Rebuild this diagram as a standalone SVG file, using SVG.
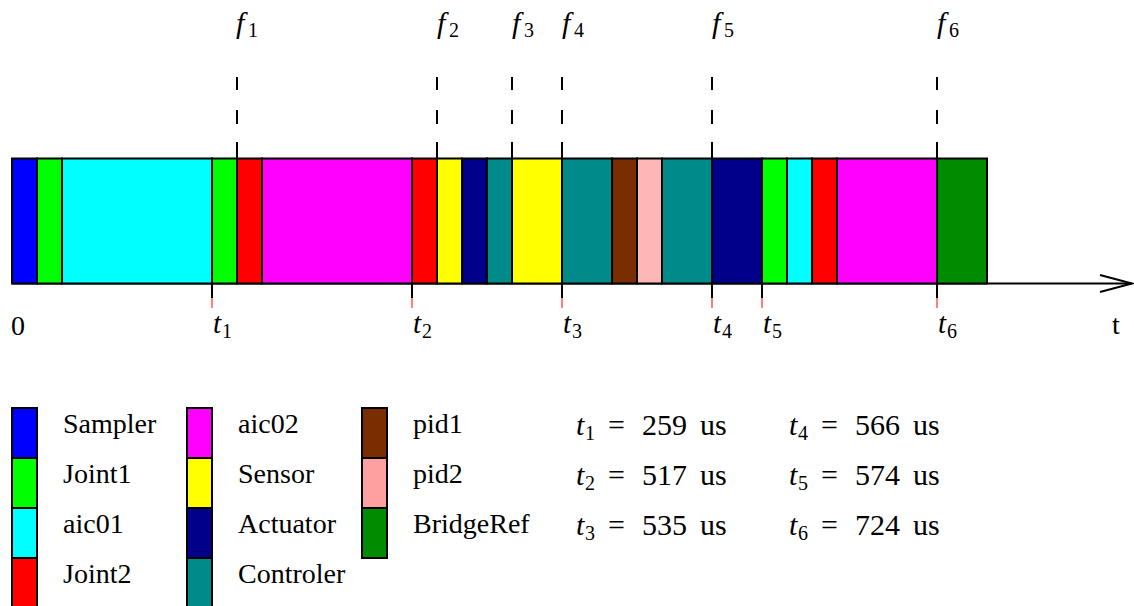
<svg xmlns="http://www.w3.org/2000/svg" width="1134" height="606" viewBox="0 0 1134 606" font-family="'Liberation Serif','DejaVu Serif','Times New Roman',serif">
<style>
.seg{stroke:#000;stroke-width:2}
.lbox{stroke:#000;stroke-width:2}
text{font-family:'Liberation Serif','DejaVu Serif','Times New Roman',serif;fill:#000}
.rm{font-size:28px}
.eq{font-size:30px}
.it{font-style:italic}
.sub{font-size:20px;font-style:normal}
.dash{stroke:#000;stroke-width:2;fill:none}
.tick{stroke:#000;stroke-width:2}
.rtick{stroke:#ff0000;stroke-width:1}
.axis{stroke:#000;stroke-width:2;fill:none}
</style>
<rect width="1134" height="606" fill="#fff"/>
<g id="connectors">
  <line class="axis" x1="12" y1="283.5" x2="1132" y2="283.5"/>
  <polyline class="axis" points="1100,275 1132,283.5 1100,292"/>
  <path class="dash" d="M237 77v13M237 110v14M237 142v16M437 77v13M437 110v14M437 142v16M512 77v13M512 110v14M512 142v16M562 77v13M562 110v14M562 142v16M712 77v13M712 110v14M712 142v16M937 77v13M937 110v14M937 142v16"/>
  <path class="tick" d="M212 283v15M412 283v15M562 283v15M712 283v15M762 283v15M937 283v15"/>
  <path class="rtick" d="M212 298v10M412 298v10M562 298v10M712 298v10M762 298v10M937 298v10"/>
</g>
<g id="bar">
  <rect class="seg" x="12" y="158.5" width="25" height="125" fill="#0000ff"/>
  <rect class="seg" x="37" y="158.5" width="25" height="125" fill="#00ff00"/>
  <rect class="seg" x="62" y="158.5" width="150" height="125" fill="#00ffff"/>
  <rect class="seg" x="212" y="158.5" width="25" height="125" fill="#00ff00"/>
  <rect class="seg" x="237" y="158.5" width="25" height="125" fill="#ff0000"/>
  <rect class="seg" x="262" y="158.5" width="150" height="125" fill="#ff00ff"/>
  <rect class="seg" x="412" y="158.5" width="25" height="125" fill="#ff0000"/>
  <rect class="seg" x="437" y="158.5" width="25" height="125" fill="#ffff00"/>
  <rect class="seg" x="462" y="158.5" width="25" height="125" fill="#00008b"/>
  <rect class="seg" x="487" y="158.5" width="25" height="125" fill="#008b8b"/>
  <rect class="seg" x="512" y="158.5" width="50" height="125" fill="#ffff00"/>
  <rect class="seg" x="562" y="158.5" width="50" height="125" fill="#008b8b"/>
  <rect class="seg" x="612" y="158.5" width="25" height="125" fill="#7a2e00"/>
  <rect class="seg" x="637" y="158.5" width="25" height="125" fill="#ffb6b6"/>
  <rect class="seg" x="662" y="158.5" width="50" height="125" fill="#008b8b"/>
  <rect class="seg" x="712" y="158.5" width="50" height="125" fill="#00008b"/>
  <rect class="seg" x="762" y="158.5" width="25" height="125" fill="#00ff00"/>
  <rect class="seg" x="787" y="158.5" width="25" height="125" fill="#00ffff"/>
  <rect class="seg" x="812" y="158.5" width="25" height="125" fill="#ff0000"/>
  <rect class="seg" x="837" y="158.5" width="100" height="125" fill="#ff00ff"/>
  <rect class="seg" x="937" y="158.5" width="50" height="125" fill="#008b00"/>
</g>
<g id="f-labels" font-size="30">
  <text class="it" x="236" y="33" font-size="30">f<tspan class="sub" x="248" dy="4">1</tspan></text>
  <text class="it" x="437" y="33" font-size="30">f<tspan class="sub" x="449" dy="4">2</tspan></text>
  <text class="it" x="512" y="33" font-size="30">f<tspan class="sub" x="524" dy="4">3</tspan></text>
  <text class="it" x="562" y="33" font-size="30">f<tspan class="sub" x="574" dy="4">4</tspan></text>
  <text class="it" x="712" y="33" font-size="30">f<tspan class="sub" x="724" dy="4">5</tspan></text>
  <text class="it" x="937" y="33" font-size="30">f<tspan class="sub" x="949" dy="4">6</tspan></text>
</g>
<g id="t-labels">
  <text x="11" y="335" font-size="28">0</text>
  <text class="it" x="213" y="333" font-size="29">t<tspan class="sub" x="222" dy="5">1</tspan></text>
  <text class="it" x="413" y="333" font-size="29">t<tspan class="sub" x="422" dy="5">2</tspan></text>
  <text class="it" x="563" y="333" font-size="29">t<tspan class="sub" x="572" dy="5">3</tspan></text>
  <text class="it" x="713" y="333" font-size="29">t<tspan class="sub" x="722" dy="5">4</tspan></text>
  <text class="it" x="763" y="333" font-size="29">t<tspan class="sub" x="772" dy="5">5</tspan></text>
  <text class="it" x="938" y="333" font-size="29">t<tspan class="sub" x="947" dy="5">6</tspan></text>
  <text x="1112" y="334" font-size="28">t</text>
</g>
<g id="legend">
  <g id="leg-sampler"><rect class="lbox" x="12" y="408" width="25" height="50" fill="#0000ff"/><text class="rm" x="63" y="433">Sampler</text></g>
  <g id="leg-joint1"><rect class="lbox" x="12" y="458" width="25" height="50" fill="#00ff00"/><text class="rm" x="63" y="483">Joint1</text></g>
  <g id="leg-aic01"><rect class="lbox" x="12" y="508" width="25" height="50" fill="#00ffff"/><text class="rm" x="63" y="533">aic01</text></g>
  <g id="leg-joint2"><rect class="lbox" x="12" y="558" width="25" height="50" fill="#ff0000"/><text class="rm" x="63" y="583">Joint2</text></g>
  <g id="leg-aic02"><rect class="lbox" x="187" y="408" width="25" height="50" fill="#ff00ff"/><text class="rm" x="238" y="433">aic02</text></g>
  <g id="leg-sensor"><rect class="lbox" x="187" y="458" width="25" height="50" fill="#ffff00"/><text class="rm" x="238" y="483">Sensor</text></g>
  <g id="leg-actuator"><rect class="lbox" x="187" y="508" width="25" height="50" fill="#00008b"/><text class="rm" x="238" y="533">Actuator</text></g>
  <g id="leg-controler"><rect class="lbox" x="187" y="558" width="25" height="50" fill="#008b8b"/><text class="rm" x="238" y="583">Controler</text></g>
  <g id="leg-pid1"><rect class="lbox" x="362" y="408" width="25" height="50" fill="#7a2e00"/><text class="rm" x="413" y="433">pid1</text></g>
  <g id="leg-pid2"><rect class="lbox" x="362" y="458" width="25" height="50" fill="#ffa0a0"/><text class="rm" x="413" y="483">pid2</text></g>
  <g id="leg-bridgeref"><rect class="lbox" x="362" y="508" width="25" height="50" fill="#008b00"/><text class="rm" x="413" y="533">BridgeRef</text></g>
</g>
<g id="times">
  <text class="eq" x="576" y="435"><tspan class="it">t</tspan><tspan class="sub" x="585" dy="5">1</tspan><tspan x="608" dy="-5">=</tspan><tspan x="642">259</tspan><tspan x="700">us</tspan></text>
  <text class="eq" x="576" y="485"><tspan class="it">t</tspan><tspan class="sub" x="585" dy="5">2</tspan><tspan x="608" dy="-5">=</tspan><tspan x="642">517</tspan><tspan x="700">us</tspan></text>
  <text class="eq" x="576" y="535"><tspan class="it">t</tspan><tspan class="sub" x="585" dy="5">3</tspan><tspan x="608" dy="-5">=</tspan><tspan x="642">535</tspan><tspan x="700">us</tspan></text>
  <text class="eq" x="789" y="435"><tspan class="it">t</tspan><tspan class="sub" x="798" dy="5">4</tspan><tspan x="821" dy="-5">=</tspan><tspan x="855">566</tspan><tspan x="913">us</tspan></text>
  <text class="eq" x="789" y="485"><tspan class="it">t</tspan><tspan class="sub" x="798" dy="5">5</tspan><tspan x="821" dy="-5">=</tspan><tspan x="855">574</tspan><tspan x="913">us</tspan></text>
  <text class="eq" x="789" y="535"><tspan class="it">t</tspan><tspan class="sub" x="798" dy="5">6</tspan><tspan x="821" dy="-5">=</tspan><tspan x="855">724</tspan><tspan x="913">us</tspan></text>
</g>
</svg>
